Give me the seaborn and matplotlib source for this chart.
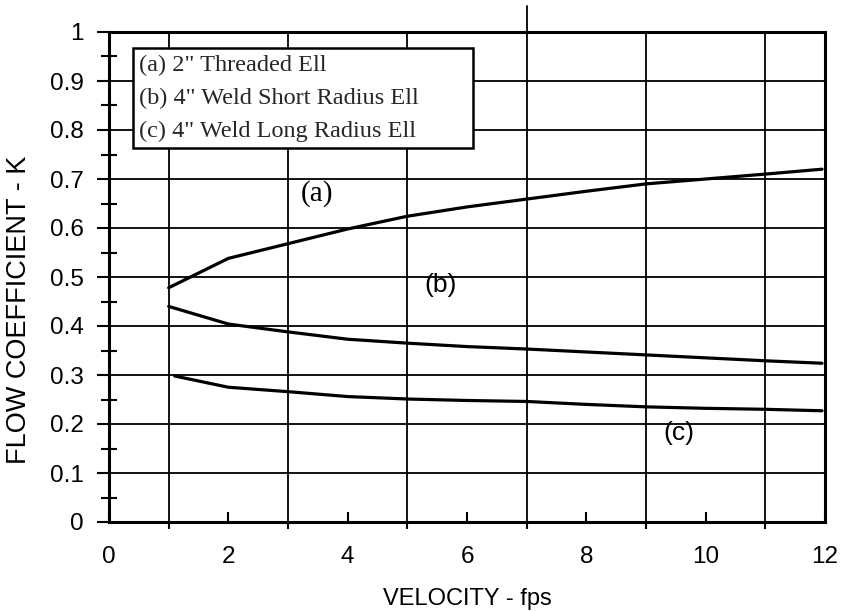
import pandas as pd
import seaborn as sns
import matplotlib.pyplot as plt

# curve data
vel_a = [1, 2, 3, 4, 5, 6, 7, 8, 9, 10, 11, 11.95]
k_a = [0.478, 0.538, 0.568, 0.598, 0.624, 0.643, 0.659, 0.675, 0.690, 0.700, 0.710, 0.720]

vel_b = [1, 2, 3, 4, 5, 6, 7, 8, 9, 10, 11, 11.95]
k_b = [0.440, 0.404, 0.388, 0.373, 0.365, 0.358, 0.353, 0.347, 0.341, 0.335, 0.329, 0.324]

vel_c = [1.1, 2, 3, 4, 5, 6, 7, 8, 9, 10, 11, 11.95]
k_c = [0.298, 0.275, 0.266, 0.256, 0.251, 0.248, 0.246, 0.240, 0.235, 0.232, 0.230, 0.227]

names = ['(a) 2" Threaded Ell', '(b) 4" Weld Short Radius Ell', '(c) 4" Weld Long Radius Ell']
tags = ['(a)', '(b)', '(c)']
tag_x = [3.48, 5.55, 9.55]
tag_y = [0.671, 0.484, 0.182]

df = pd.concat([
    pd.DataFrame({'vel': vel_a, 'k': k_a, 'series': names[0]}),
    pd.DataFrame({'vel': vel_b, 'k': k_b, 'series': names[1]}),
    pd.DataFrame({'vel': vel_c, 'k': k_c, 'series': names[2]}),
])

sns.set_style('ticks')
plt.rcParams['font.family'] = ['Liberation Sans', 'DejaVu Sans']

fig = plt.figure(figsize=(8.41, 6.12), dpi=100)
ax = fig.add_axes([109 / 841, 1 - 522 / 612, 716 / 841, 490 / 612])

sns.lineplot(data=df, x='vel', y='k', hue='series', palette=['black'] * 3,
             linewidth=2.3, ax=ax, sort=True, legend=True, zorder=3)

ax.set_xlim(0, 12)
ax.set_ylim(0, 1)
ax.set_xticks(range(0, 13, 2))
ax.set_xticks(range(1, 13, 2), minor=True)
ax.set_yticks([i / 10 for i in range(11)])
ax.set_yticklabels(['0', '0.1', '0.2', '0.3', '0.4', '0.5', '0.6', '0.7', '0.8', '0.9', '1'])
ax.set_yticks([i / 10 + 0.05 for i in range(10)], minor=True)

ax.tick_params(axis='x', which='major', direction='in', length=7, width=1.5,
               labelsize=17.5, pad=17, color='black', labelcolor='black')
ax.tick_params(axis='x', which='minor', direction='out', length=5, width=1.5, color='black')
ax.tick_params(axis='y', which='major', direction='out', length=9, width=1.5,
               labelsize=17.5, pad=9, color='black', labelcolor='black')
ax.tick_params(axis='y', which='minor', direction='inout', length=11, width=1.5, color='black')

ax.yaxis.grid(True, which='major', color='black', linewidth=1.3)
ax.xaxis.grid(True, which='minor', color='black', linewidth=1.3)
ax.xaxis.grid(False, which='major')
# the x=7 grid line runs past the top of the frame in the original
ax.axvline(7, ymin=1, ymax=1.053, clip_on=False, color='black', linewidth=1.3)

for s in ax.spines.values():
    s.set_visible(True)
    s.set_linewidth(2.2)
    s.set_color('black')

ax.set_xlabel('VELOCITY - fps', fontsize=17, labelpad=15, color='black')
ax.set_ylabel('FLOW COEFFICIENT - K', fontsize=19.5, color='black')
ax.yaxis.set_label_coords(-0.108, 0.433)

# curve tags
ax.text(tag_x[0], tag_y[0], tags[0], ha='center', va='center', fontsize=21,
        family=['Liberation Serif', 'DejaVu Serif'], color='black')
for i in [1, 2]:
    ax.text(tag_x[i], tag_y[i], tags[i], ha='center', va='center', fontsize=19, color='black')

handles, labels = ax.get_legend_handles_labels()
leg = ax.legend(handles, labels, loc='upper left',
                bbox_to_anchor=(0.0335, 0.737, 0.475, 0.23), mode='expand',
                borderaxespad=0, handlelength=0, handletextpad=0,
                borderpad=0.25, labelspacing=0.45, frameon=True, fancybox=False,
                edgecolor='black', framealpha=1,
                prop={'family': ['Liberation Serif', 'DejaVu Serif'], 'size': 17.5})
leg.get_frame().set_linewidth(1.8)
leg.set_zorder(5)
for h in leg.legend_handles:
    h.set_visible(False)

plt.savefig('out.png', dpi=100)
plt.close()
